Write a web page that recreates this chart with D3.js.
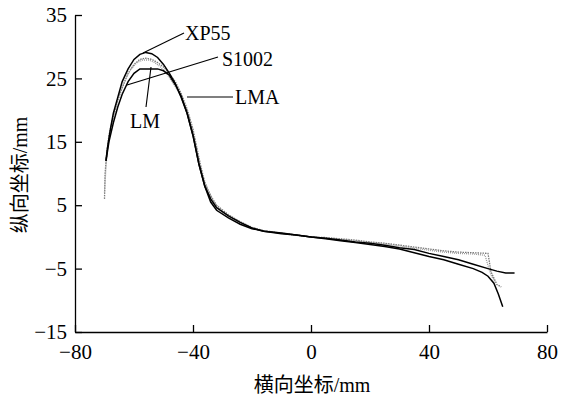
<!DOCTYPE html>
<html><head><meta charset="utf-8">
<script src="https://cdn.jsdelivr.net/npm/d3@7"></script>
<style>body{margin:0;background:#fff}svg{display:block}</style>
</head><body>
<script>
const xTicks = [-80, -40, 0, 40, 80];
const yTicks = [-15, -5, 5, 15, 25, 35];
const xTitle = "横向坐标/mm";
const yTitle = "纵向坐标/mm";

const XP55 = [[-69.5,12],[-69,14],[-68,17],[-67,19.5],[-65.5,22],[-64,24.5],[-62,26.5],[-60,28],[-58,28.8],[-56,29.1],[-54,28.9],[-52,28.3],[-50,27.2],[-48,25.8],[-46,24.2],[-44,22],[-42,19.5],[-40,16],[-38,11.5],[-36,8],[-34,6],[-32,4.6],[-28,3.3],[-24,2.3],[-20,1.4],[-16,0.9],[-10,0.6],[-5,0.3],[0,0],[5,-0.3],[10,-0.6],[15,-0.9],[20,-1.2],[25,-1.5],[30,-1.9],[35,-2.5],[40,-3.1],[45,-3.6],[50,-4.3],[55,-5.0],[58,-5.6],[60,-6.2],[62,-7.3],[63.5,-9],[65,-11]];
const LM = [[-69.5,12],[-68.5,15],[-67,18],[-65.5,20.5],[-64,22.5],[-62,24.5],[-60,25.8],[-58,26.5],[-52,26.5],[-50,26.2],[-48,25.5],[-46,24],[-44,22.2],[-42,19.5],[-40,16],[-38,11.5],[-36,8],[-34,5.5],[-32,4.2],[-28,3.0],[-24,2.0],[-20,1.3],[-16,0.9],[-10,0.5],[-5,0.3],[0,0],[5,-0.2],[10,-0.5],[15,-0.8],[20,-1.0],[25,-1.3],[30,-1.7],[35,-2.0],[40,-2.6],[45,-3.1],[50,-3.6],[55,-4.3],[60,-5.0],[63,-5.4],[66,-5.7],[69,-5.7]];
const S1002 = [[-70,6],[-69.8,10],[-69.3,13],[-68.5,16],[-67,19],[-65.5,21.5],[-64,23.5],[-62,25.8],[-60,27.2],[-58,28],[-56,28.2],[-54,28],[-52,27.5],[-50,26.8],[-48,25.7],[-46,24.5],[-44,22.6],[-42,20.2],[-40,17],[-38,12.5],[-36,8.5],[-34,6.5],[-32,5],[-28,3.5],[-24,2.4],[-20,1.5],[-16,1.0],[-10,0.6],[-5,0.3],[0,0],[5,-0.1],[10,-0.3],[15,-0.5],[20,-0.8],[25,-1.0],[30,-1.3],[35,-1.6],[40,-1.9],[45,-2.2],[50,-2.4],[55,-2.5],[60,-2.6],[60.5,-4],[61,-5.5],[62,-6.5],[63,-7.5],[64.5,-7.9]];
const LMA = [[-70,7],[-69.5,11],[-69,14],[-68,17],[-66.5,20],[-65,22.5],[-63,24.8],[-61,26.5],[-59,27.5],[-57,27.9],[-55,27.9],[-53,27.5],[-51,26.8],[-49,25.8],[-47,24.4],[-45,23],[-43,21],[-41,18.5],[-39,14.5],[-37,10],[-35,7.5],[-33,5.5],[-30,4],[-26,2.8],[-22,1.8],[-18,1.1],[-12,0.7],[-6,0.3],[0,0],[5,-0.2],[10,-0.4],[15,-0.6],[20,-0.9],[25,-1.1],[30,-1.4],[35,-1.8],[40,-2.1],[45,-2.4],[50,-2.6],[55,-2.7],[59,-2.9],[60,-4.5],[61,-6],[62.5,-7.2]];

const W = 566, H = 400;
const svg = d3.select("body").append("svg").attr("width", W).attr("height", H);
const x = d3.scaleLinear().domain([-80, 80]).range([75, 547]);
const y = d3.scaleLinear().domain([-15, 35]).range([332, 15]);
const serif = "'Liberation Serif','Times New Roman',serif";
const fmt = d => d < 0 ? "\u2212" + Math.abs(d) : String(d);

const xa = svg.append("g").attr("transform", `translate(0,${y(-15)})`)
  .call(d3.axisBottom(x).tickValues(xTicks).tickSizeInner(-7).tickSizeOuter(0).tickPadding(12).tickFormat(fmt));
const ya = svg.append("g").attr("transform", `translate(${x(-80)},0)`)
  .call(d3.axisLeft(y).tickValues(yTicks).tickSizeInner(-7).tickSizeOuter(0).tickPadding(8).tickFormat(fmt));
[xa, ya].forEach(g => {
  g.select(".domain").attr("stroke", "#000").attr("stroke-width", 1.3);
  g.selectAll(".tick line").attr("stroke", "#000").attr("stroke-width", 1.3);
  g.selectAll("text").attr("font-family", serif).attr("font-size", 21).attr("fill", "#000");
});

const line = d3.line().x(d => x(d[0])).y(d => y(d[1]));
const series = [
  {d: S1002, c: "#777", w: 1.3, dash: "1.5,1"},
  {d: LMA, c: "#999", w: 1.3, dash: "1,1"},
  {d: LM, c: "#000", w: 1.5, dash: null},
  {d: XP55, c: "#000", w: 1.5, dash: null}
];
series.forEach(s => {
  svg.append("path").datum(s.d).attr("d", line).attr("fill", "none")
    .attr("stroke", s.c).attr("stroke-width", s.w).attr("stroke-dasharray", s.dash);
});

const leaders = [[143,53,184,33],[127,85,218,57],[187,97,233,97],[146,107,151,67]];
leaders.forEach(l => svg.append("line").attr("x1", l[0]).attr("y1", l[1]).attr("x2", l[2]).attr("y2", l[3])
  .attr("stroke", "#000").attr("stroke-width", 1.1));
const labels = [["XP55",185,40],["S1002",222,66],["LMA",235,104],["LM",130,128]];
labels.forEach(l => svg.append("text").attr("x", l[1]).attr("y", l[2]).text(l[0])
  .attr("font-family", serif).attr("font-size", 20).attr("fill", "#000"));

function title(g, t) {
  const te = g.append("text").attr("text-anchor", "middle").attr("font-size", 20).attr("fill", "#000");
  const m = t.indexOf("/");
  te.append("tspan").attr("font-family", "'Noto Sans CJK SC',sans-serif").text(t.slice(0, m));
  te.append("tspan").attr("font-family", serif).text(t.slice(m));
  return te;
}
title(svg.append("g").attr("transform", `translate(312,392)`), xTitle);
title(svg.append("g").attr("transform", `translate(27,175) rotate(-90)`), yTitle);
</script>
</body></html>
